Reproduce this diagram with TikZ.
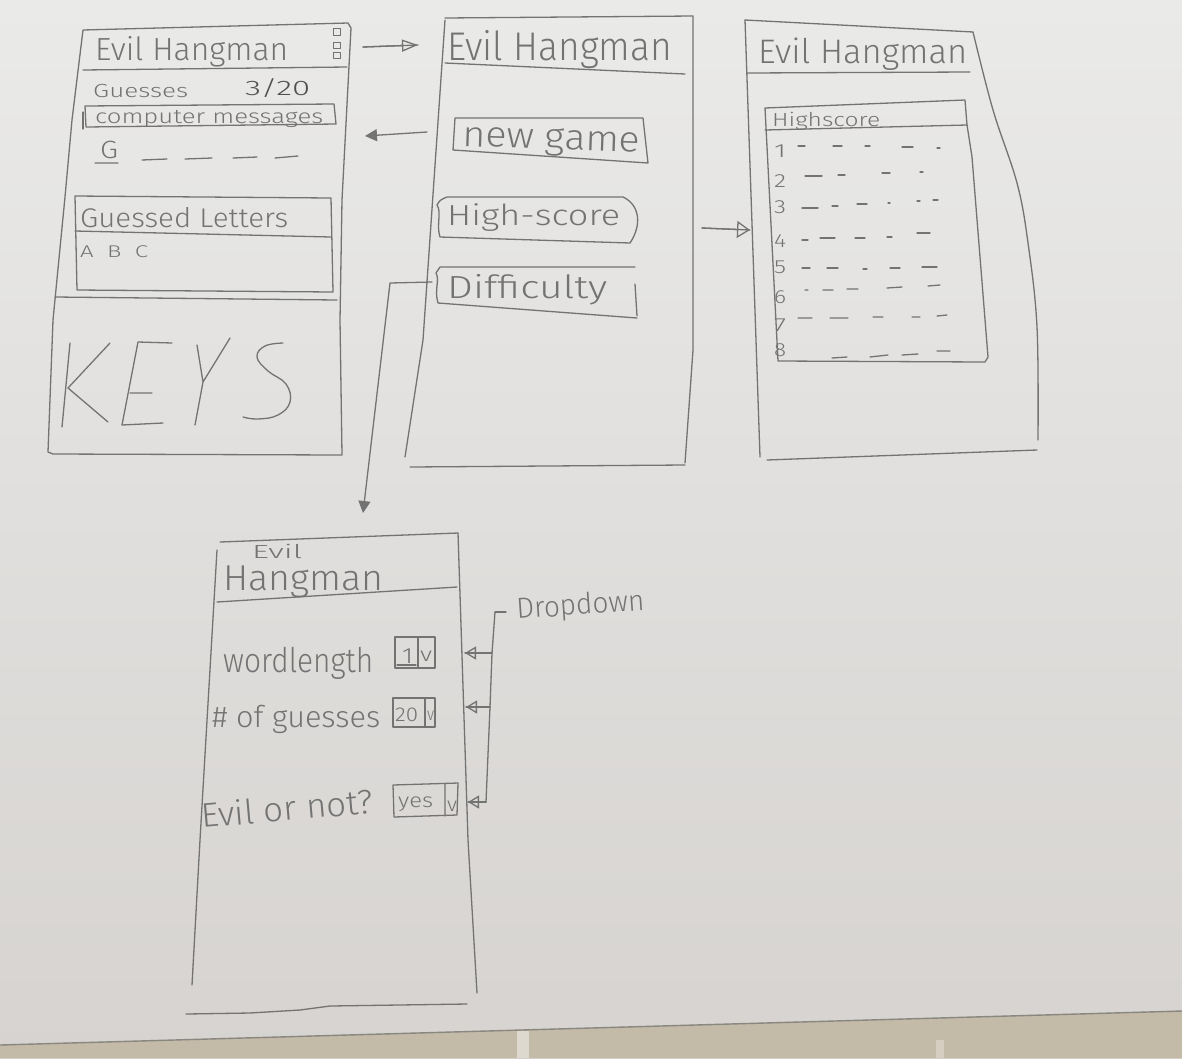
\documentclass[tikz,border=0pt]{standalone}
\usepackage{fontspec}
\setmainfont{Fira Sans}[UprightFont={* Light}]
\usepackage{graphicx}
\usetikzlibrary{arrows.meta}
\definecolor{pencil}{HTML}{737373}
\definecolor{pencildark}{HTML}{505050}
\definecolor{paperA}{HTML}{EAEAE9}
\definecolor{paperB}{HTML}{D6D3D0}
\definecolor{board}{HTML}{C3BAA7}
\definecolor{boardedge}{HTML}{8A8680}
% handwritten-style label: font size, target width, text
\newcommand\hand[3]{\resizebox{#2pt}{\height}{\fontsize{#1pt}{#1pt}\selectfont #3}}
\begin{document}
\begin{tikzpicture}[x=1pt,y=-1pt,
  pen/.style={draw=pencil,line width=1.3pt,line cap=round,line join=round},
  txt/.style={text=pencil,inner sep=0pt,anchor=base west},
  openhead/.style={-{Triangle[open,length=16pt,width=12pt]}},
  widehead/.style={-{Triangle[open,length=13pt,width=17pt]}},
  fillhead/.style={-{Triangle[length=12pt,width=12pt]}},
  ddhead/.style={-{Triangle[open,length=11pt,width=13pt]}}]

% paper and board edge
\shade[top color=paperA,bottom color=paperB] (0,0) rectangle (1182,1058);
\useasboundingbox (0,0) rectangle (1182,1058);
\fill[board] (0,1045) -- (1182,1011) -- (1182,1058) -- (0,1058) -- cycle;
\draw[boardedge,line width=1.4pt] (0,1045) -- (1182,1011);
\fill[white,opacity=0.45] (517,1031) rectangle (529,1058);
\fill[white,opacity=0.3] (936,1040) rectangle (944,1058);

% ---------- game screen ----------
\draw[pen] (83,30) -- (348,23) -- (351,28) -- (342,200) -- (340,320) -- (342,455)
  -- (53,454) -- (48,452) -- (53,320) -- (65,197) -- (72,120) -- cycle;
\draw[pen] (83,70) -- (347,67);
\node[txt] (g-title) at (95,60) {\hand{32}{193}{Evil Hangman}};
\draw[pen,line width=1pt] (333,28) rectangle (340,35) (333,42) rectangle (340,48) (333,52) rectangle (340,58);
\node[txt] (g-guesses) at (93,97) {\hand{19}{95}{Guesses}};
\node[txt,text=pencildark] (g-count) at (245,95) {\hand{21}{65}{3/20}};
\draw[pen] (85,106) -- (334,104) -- (336,124) -- (86,127) -- cycle;
\draw[pen] (83,112) -- (83,129);
\node[txt] (g-msg) at (95,123) {\hand{20}{228}{computer messages}};
\node[txt] (g-letter) at (100,158) {\hand{25}{18}{G}};
\draw[pen] (95,163) -- (118,163) (142,160) -- (167,159) (185,159) -- (212,158)
  (233,158) -- (257,157) (275,158) -- (298,156);
\draw[pen] (75,196) -- (331,198) -- (333,292) -- (77,290) -- cycle;
\draw[pen] (75,231) -- (331,237);
\node[txt] (g-guessed) at (80,227) {\hand{27}{208}{Guessed Letters}};
\node[txt] (g-abc) at (80,257) {\hand{17}{68}{A\ \ B\ \ C}};
\draw[pen] (55,297) -- (337,300);
% large KEYS lettering
\draw[pen] (70,343) -- (62,427) (110,343) -- (68,388) -- (108,422);
\draw[pen] (172,343) -- (138,342) -- (122,425) -- (163,423) (130,393) -- (152,393);
\draw[pen] (197,345) -- (203,382) -- (230,338) (203,382) -- (195,425);
\draw[pen] plot[smooth,tension=0.7] coordinates {(283,343) (265,346) (257,357) (268,371) (286,384) (290,402) (278,415) (258,419) (243,417)};

% ---------- menu screen ----------
\draw[pen] (405,457) -- (423,340) -- (445,20);
\draw[pen] (445,18) -- (693,16) -- (693,350) -- (685,463);
\draw[pen] (410,467) -- (685,465);
\draw[pen] (445,63) -- (685,74);
\node[txt] (m-title) at (447,60) {\hand{40}{225}{Evil Hangman}};
\draw[pen] (455,118) -- (643,118) -- (648,163) -- (453,150) -- cycle;
\node[txt,rotate=-2] (newgame) at (462,146) {\hand{36}{178}{new game}};
\draw[pen] (447,197) -- (623,197) .. controls (640,205) and (642,225) .. (630,243)
  -- (440,237) .. controls (436,225) and (442,212) .. (437,205) .. controls (440,200) .. (447,197);
\node[txt] (highscore) at (447,225) {\hand{29}{173}{High-score}};
\draw[pen] (440,267) -- (635,267) (635,284) -- (637,316) (637,318) -- (438,303)
  .. controls (434,290) and (440,280) .. (436,273) -- (440,267);
\node[txt] (difficulty) at (447,298) {\hand{32}{160}{Difficulty}};

% ---------- highscore screen ----------
\draw[pen] (745,20) -- (760,457);
\draw[pen] (745,20) -- (973,32);
\draw[pen] plot[smooth,tension=0.6] coordinates {(973,32) (993,110) (1017,183) (1028,243) (1037,327) (1038,440)};
\draw[pen] (767,460) -- (1037,450);
\draw[pen] (747,73) -- (970,72);
\node[txt] (h-title) at (758,63) {\hand{34}{209}{Evil Hangman}};
\draw[pen] (765,108) -- (965,100) -- (967,125) -- (972,157) -- (988,357) -- (985,362) -- (778,361) -- cycle;
\draw[pen] (765,130) -- (967,125);
\node[txt] (h-head) at (772,126) {\hand{19}{108}{Highscore}};
\foreach \n/\yy in {1/157,2/187,3/213,4/247,5/273,6/303,7/331,8/356}
  \node[txt] (rank\n) at (774,\yy) {\hand{19}{12}{\n}};
\draw[pen] (798,146) -- (805,146) (833,146) -- (842,146) (865,146) -- (870,146) (902,147) -- (913,147) (937,148) -- (940,148);
\draw[pen] (805,176) -- (822,176) (838,175) -- (845,175) (882,173) -- (890,173) (920,172) -- (923,172);
\draw[pen] (802,208) -- (818,208) (832,206) -- (838,206) (857,204) -- (867,204) (888,203) -- (890,203) (917,201) -- (920,201) (933,200) -- (938,200);
\draw[pen] (802,240) -- (808,240) (820,238) -- (835,238) (855,238) -- (865,238) (887,237) -- (892,237) (917,233) -- (930,233);
\draw[pen] (802,268) -- (810,268) (827,268) -- (838,268) (863,269) -- (867,269) (890,268) -- (900,268) (922,267) -- (937,267);
\draw[pen] (805,290) -- (808,290) (823,290) -- (833,290) (847,289) -- (858,289) (887,288) -- (902,287) (928,286) -- (940,285);
\draw[pen] (798,318) -- (812,318) (830,318) -- (848,318) (873,317) -- (883,317) (912,317) -- (920,317) (937,316) -- (947,315);
\draw[pen] (832,358) -- (847,357) (870,357) -- (888,355) (902,355) -- (918,354) (937,351) -- (950,351);

% ---------- difficulty screen ----------
\draw[pen] (217,550) -- (200,840) -- (192,985);
\draw[pen] (220,542) -- (458,533);
\draw[pen] (458,533) -- (468,840) -- (477,993);
\draw[pen] (186,1014) -- (250,1013) -- (300,1010) -- (330,1006) -- (467,1004);
\draw[pen] (217,602) -- (457,587);
\node[txt] (d-evil) at (252,558) {\hand{19}{50}{Evil}};
\node[txt] (d-title) at (223,590) {\hand{36}{160}{Hangman}};
\node[txt] (d-len) at (223,672) {\hand{34}{150}{wordlength}};
\draw[pen] (395,637) rectangle (435,668) (418,637) -- (418,668) (397,665) -- (416,665);
\node[txt] (d-len-val) at (402,663) {\hand{22}{11}{1}};
\node[txt] (d-len-v) at (420,661) {\hand{20}{12}{v}};
\node[txt] (d-guess) at (212,727) {\hand{30}{168}{\# of guesses}};
\draw[pen] (393,698) rectangle (435,727) (425,698) -- (425,727);
\node[txt] (d-guess-val) at (395,721) {\hand{20}{23}{20}};
\node[txt] (d-guess-v) at (427,720) {\hand{18}{7}{v}};
\node[txt,rotate=5] (d-evilq) at (202,828) {\hand{34}{172}{Evil or not?}};
\draw[pen] (393,785) -- (458,783) -- (457,815) -- (394,817) -- cycle (445,784) -- (445,816);
\node[txt] (d-evil-val) at (398,807) {\hand{20}{35}{yes}};
\node[txt] (d-evil-v) at (447,811) {\hand{20}{10}{v}};

% dropdown callout
\node[txt,rotate=4] (dropdown) at (517,619) {\hand{29}{128}{Dropdown}};
\coordinate (dd-top) at (495,612);
\coordinate (dd-a) at (492,653);
\coordinate (dd-b) at (490,707);
\coordinate (dd-c) at (486,802);
\coordinate (dd-a-end) at (465,653);
\coordinate (dd-b-end) at (466,707);
\coordinate (dd-c-end) at (468,802);
\draw[pen] (dd-top) -- (506,612);
\draw[pen] (dd-top) -- (dd-a) -- (dd-b) -- (dd-c);
\foreach \k in {a,b,c} {
  \draw[pen] (dd-\k) -- (dd-\k-end);
  \draw[pen,ddhead] (dd-\k) -- (dd-\k-end);
}

% ---------- navigation arrows ----------
\coordinate (nav1-s) at (363,47);
\coordinate (nav1-e) at (418,45);
\draw[pen] (nav1-s) -- (nav1-e);
\draw[pen,openhead] (nav1-s) -- (nav1-e);

\coordinate (nav2-s) at (427,132);
\coordinate (nav2-e) at (365,136);
\draw[pen,fillhead] (nav2-s) -- (nav2-e);

\coordinate (nav3-s) at (702,228);
\coordinate (nav3-e) at (750,230);
\draw[pen] (nav3-s) -- (nav3-e);
\draw[pen,widehead] (nav3-s) -- (nav3-e);

\coordinate (nav4-s) at (432,282);
\coordinate (nav4-k) at (390,283);
\coordinate (nav4-e) at (363,513);
\draw[pen,fillhead] (nav4-s) -- (nav4-k) -- (nav4-e);
\end{tikzpicture}
\end{document}
